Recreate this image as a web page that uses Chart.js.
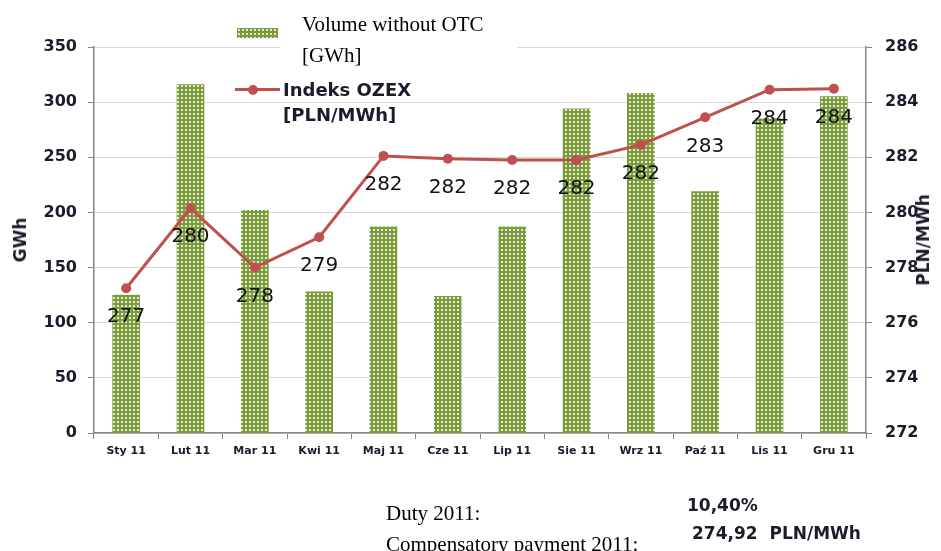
<!DOCTYPE html>
<html>
<head>
<meta charset="utf-8">
<script src="https://cdn.jsdelivr.net/npm/chart.js@4.4.1/dist/chart.umd.min.js"></script>
<style>
  body { margin: 0; background: #fff; overflow: hidden; }
  #wrap { position: relative; width: 941px; height: 551px; }
  .txt { position: absolute; white-space: pre; }
  .serif { font-family: "Liberation Serif", serif; font-size: 21px; line-height: 24px; color: #000; }
  .bold { font-family: "DejaVu Sans", sans-serif; font-weight: bold; color: #1a1c2a; }
</style>
</head>
<body>
<div id="wrap">
  <canvas id="ozexChart" width="941" height="551"></canvas>

  <!-- legenda -->
  <div style="position:absolute; left:280px; top:4px; width:237px; height:62px; background:#fff;"></div>
  <div style="position:absolute; left:237px; top:28px; width:41px; height:10px; background-color:#7a9a3c; background-image:radial-gradient(#e4ecd2 40%, transparent 45%); background-size:4px 4px;"></div>
  <div class="txt serif" style="left:302px; top:12px;">Volume without OTC</div>
  <div class="txt serif" style="left:302px; top:43px;">[GWh]</div>
  <div style="position:absolute; left:235px; top:88px; width:45px; height:3px; background:#c0504d;"></div>
  <div style="position:absolute; left:248px; top:85px; width:10px; height:10px; border-radius:50%; background:#c0504d;"></div>
  <div class="txt bold" style="left:283px; top:78px; font-size:18px; line-height:24px;">Indeks OZEX</div>
  <div class="txt bold" style="left:283px; top:103px; font-size:18px; line-height:24px;">[PLN/MWh]</div>

  <!-- tytuly osi -->
  <div class="txt bold" style="left:20px; top:240px; font-size:17px; line-height:20px; transform:translate(-50%,-50%) rotate(-90deg);">GWh</div>
  <div class="txt bold" style="left:923px; top:240px; font-size:17px; line-height:20px; transform:translate(-50%,-50%) rotate(-90deg);">PLN/MWh</div>

  <!-- opis pod wykresem -->
  <div class="txt serif" style="left:386px; top:501px;">Duty 2011:</div>
  <div class="txt serif" style="left:386px; top:532px;">Compensatory payment 2011:</div>
  <div class="txt bold" style="left:687px; top:494px; font-size:17px; line-height:22px;">10,40%</div>
  <div class="txt bold" style="left:692px; top:522px; font-size:17px; line-height:22px;">274,92  PLN/MWh</div>
</div>

<script>
const months = ['Sty 11', 'Lut 11', 'Mar 11', 'Kwi 11', 'Maj 11', 'Cze 11', 'Lip 11', 'Sie 11', 'Wrz 11', 'Paź 11', 'Lis 11', 'Gru 11'];
const volume = [125, 316, 202, 128, 187, 124, 187, 294, 308, 219, 285, 305];
const ozex = [277.25, 280.15, 278.0, 279.1, 282.05, 281.95, 281.9, 281.9, 282.45, 283.45, 284.45, 284.49];

// osie: GWh po lewej, PLN/MWh po prawej
const gwhMin = 0, gwhMax = 350, gwhStep = 50;
const plnMin = 272, plnMax = 286, plnStep = 2;

const ctx = document.getElementById('ozexChart').getContext('2d');

// kropkowany wzor slupkow
function makePattern() {
  const c = document.createElement('canvas');
  c.width = 4; c.height = 4;
  const g = c.getContext('2d');
  g.fillStyle = '#7a9a3c';
  g.fillRect(0, 0, 4, 4);
  g.fillStyle = '#e4ecd2';
  g.fillRect(1, 1, 2, 2);
  return ctx.createPattern(c, 'repeat');
}

// etykiety wartosci pod punktami linii
const pointLabels = {
  id: 'pointLabels',
  afterDatasetsDraw(chart) {
    const meta = chart.getDatasetMeta(0);
    const c = chart.ctx;
    c.save();
    c.font = '20px "DejaVu Sans"';
    c.fillStyle = '#111';
    c.textAlign = 'center';
    c.textBaseline = 'middle';
    meta.data.forEach((p, i) => {
      c.fillText(Math.round(ozex[i]), p.x, p.y + 29);
    });
    c.restore();
  }
};

const tickColor = '#1a1c2a';
const axisGray = '#868686';

new Chart(ctx, {
  type: 'bar',
  data: {
    labels: months,
    datasets: [{
      type: 'line',
      label: 'Indeks OZEX [PLN/MWh]',
      data: ozex,
      yAxisID: 'y1',
      order: 1,
      borderColor: '#c0504d',
      borderWidth: 3,
      pointRadius: 5,
      pointBackgroundColor: '#c0504d',
      pointBorderWidth: 0,
      tension: 0,
    }, {
      type: 'bar',
      label: 'Volume without OTC [GWh]',
      data: volume,
      yAxisID: 'y',
      order: 2,
      backgroundColor: makePattern(),
      borderWidth: 0,
      barThickness: 27,
    }],
  },
  options: {
    responsive: false,
    animation: false,
    layout: { padding: { top: 47, bottom: 90, left: 0, right: 0 } },
    plugins: {
      legend: { display: false },
      tooltip: { enabled: false },
    },
    scales: {
      x: {
        offset: true,
        grid: { offset: true, drawOnChartArea: false, tickLength: 6, color: axisGray },
        border: { color: axisGray, width: 1.5 },
        ticks: {
          font: { family: 'DejaVu Sans', size: 11, weight: 'bold' },
          color: tickColor,
          padding: 6,
          maxRotation: 0,
          autoSkip: false,
        },
        afterFit(s) { s.height = 28; },
      },
      y: {
        position: 'left',
        min: gwhMin,
        max: gwhMax,
        ticks: {
          stepSize: gwhStep,
          font: { family: 'DejaVu Sans', size: 16, weight: 'bold' },
          color: tickColor,
          padding: 11,
        },
        grid: { color: '#d9d9d9', tickColor: axisGray, tickLength: 6 },
        border: { color: axisGray, width: 1.5 },
        afterFit(s) { s.width = 94; },
      },
      y1: {
        position: 'right',
        min: plnMin,
        max: plnMax,
        ticks: {
          stepSize: plnStep,
          font: { family: 'DejaVu Sans', size: 16, weight: 'bold' },
          color: tickColor,
          padding: 13,
        },
        grid: { drawOnChartArea: false, color: axisGray, tickLength: 6 },
        border: { color: axisGray, width: 1.5 },
        afterFit(s) { s.width = 75; },
      },
    },
  },
  plugins: [pointLabels],
});
</script>
</body>
</html>
